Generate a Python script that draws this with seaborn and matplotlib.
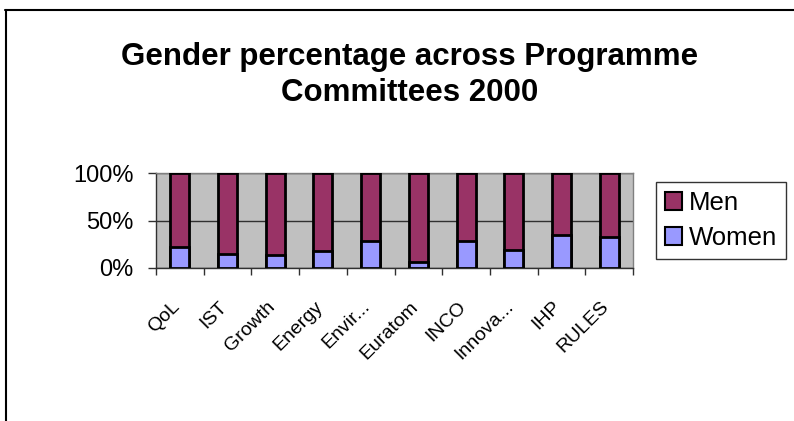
import numpy as np
import pandas as pd
import matplotlib
matplotlib.use('Agg')
import matplotlib.pyplot as plt
import matplotlib.transforms as mtransforms
import seaborn as sns
from matplotlib.lines import Line2D
from matplotlib.patches import Patch
from matplotlib.ticker import FixedLocator, PercentFormatter

# data
committees = ["QoL", "IST", "Growth", "Energy", "Envir...", "Euratom",
              "INCO", "Innova...", "IHP", "RULES"]
women_pct = [22.6, 15.0, 14.0, 17.4, 28.9, 6.6, 28.6, 19.2, 34.5, 32.4]
men_pct = [100 - w for w in women_pct]

men_color = "#993366"
women_color = "#9999FF"

df = pd.DataFrame({"committee": committees, "Women": women_pct, "Men": men_pct})
df["total"] = df["Women"] + df["Men"]

sns.set_theme(style="white")
plt.rcParams['font.family'] = ['Liberation Sans', 'DejaVu Sans']
plt.rcParams['text.color'] = 'black'
plt.rcParams['xtick.color'] = 'black'
plt.rcParams['ytick.color'] = 'black'

fig = plt.figure(figsize=(7.94, 4.21), dpi=100)
ax = fig.add_axes([156 / 794, 1 - 268 / 421, (633 - 156) / 794, (268 - 173) / 421])
ax.set_facecolor("#C0C0C0")

# stacked bars: men on top of women (draw total first, women over it)
sns.barplot(data=df, x="committee", y="total", color=men_color, width=0.4,
            edgecolor="black", linewidth=2, saturation=1, ax=ax, zorder=3)
sns.barplot(data=df, x="committee", y="Women", color=women_color, width=0.4,
            edgecolor="black", linewidth=2, saturation=1, ax=ax, zorder=4)

ax.set_ylim(0, 100)
ax.set_xlim(-0.5, len(committees) - 0.5)
ax.set_yticks([0, 50, 100])
ax.yaxis.set_major_formatter(PercentFormatter(decimals=0))
ax.yaxis.grid(True, color="#303030", linewidth=1, zorder=0)
ax.set_axisbelow(True)
ax.set_xlabel("")
ax.set_ylabel("")

for side in ["top", "right"]:
    ax.spines[side].set_color("#808080")
    ax.spines[side].set_linewidth(1)
for side in ["left", "bottom"]:
    ax.spines[side].set_color("#303030")
    ax.spines[side].set_linewidth(1)

ax.tick_params(axis="y", which="major", length=6, width=1, direction="out",
               left=True, labelsize=17, pad=10, color="#303030")
ax.tick_params(axis="x", which="major", length=0, labelsize=14, pad=0)
ax.xaxis.set_minor_locator(FixedLocator(np.arange(-0.5, len(committees), 1.0)))
ax.tick_params(axis="x", which="minor", length=5, width=1, direction="out",
               bottom=True, color="#303030")
ax.set_xticks(range(len(committees)))
ax.set_xticklabels(committees, rotation=45, ha="right", rotation_mode="anchor")
shift = mtransforms.ScaledTranslation(-9 / 100, -30 / 100, fig.dpi_scale_trans)
for lbl in ax.get_xticklabels():
    lbl.set_transform(lbl.get_transform() + shift)

fig.text(410 / 794, 1 - 75 / 421, "Gender percentage across Programme\nCommittees 2000",
         ha="center", va="center", fontsize=22.5, fontweight="bold",
         linespacing=1.3)

handles = [Patch(facecolor=men_color, edgecolor="black", linewidth=1.5),
           Patch(facecolor=women_color, edgecolor="black", linewidth=1.5)]
leg = fig.legend(handles, ["Men", "Women"], loc="upper left",
                 bbox_to_anchor=(656 / 794, 1 - 182 / 421), fontsize=18.5,
                 frameon=True, fancybox=False, handlelength=0.68,
                 handleheight=0.68, handletextpad=0.25, borderpad=0.35,
                 labelspacing=0.42, borderaxespad=0)
leg.get_frame().set_edgecolor("black")
leg.get_frame().set_linewidth(1)

# outer chart frame (top and left visible)
fig.add_artist(Line2D([5 / 794, 1], [1 - 9.5 / 421, 1 - 9.5 / 421],
                      color="black", linewidth=1.5, transform=fig.transFigure))
fig.add_artist(Line2D([5.5 / 794, 5.5 / 794], [0, 1 - 9.5 / 421],
                      color="black", linewidth=1.5, transform=fig.transFigure))

fig.savefig("out.png", dpi=100)
